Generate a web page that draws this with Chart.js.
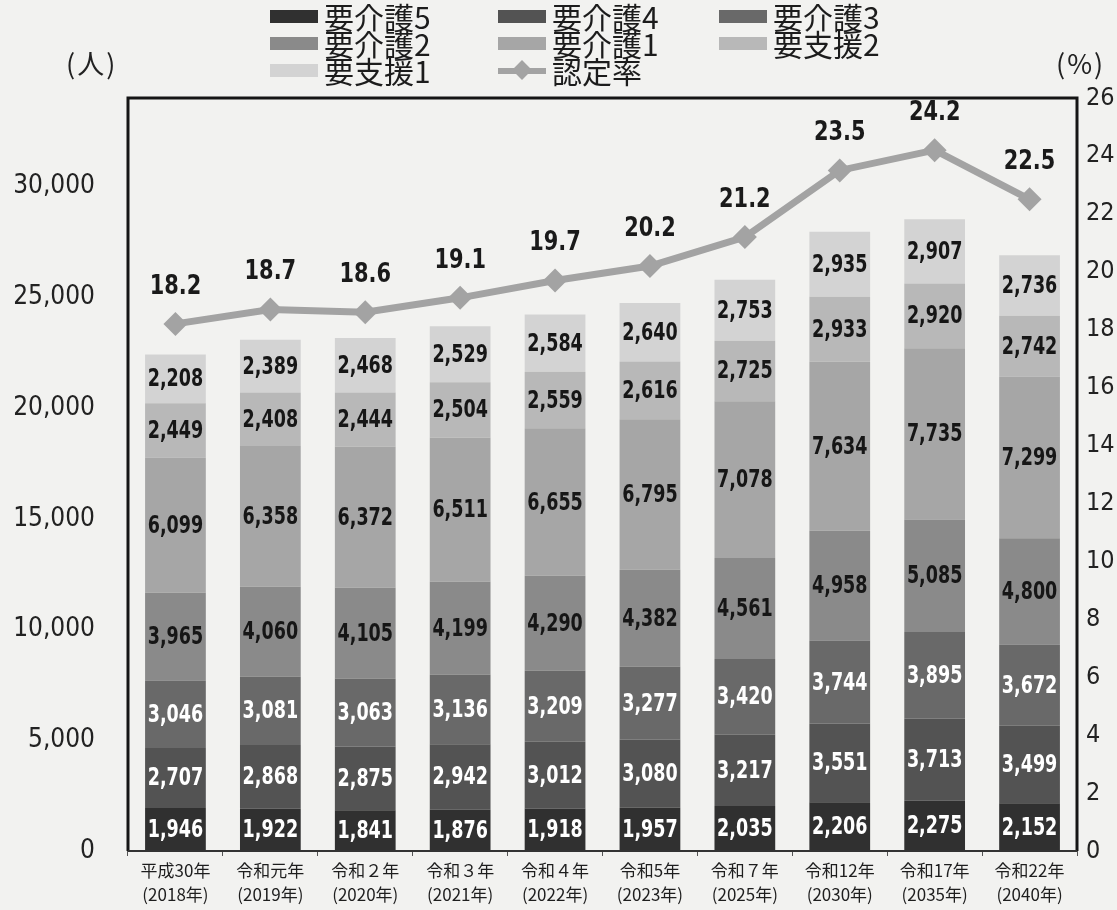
<!DOCTYPE html>
<html lang="ja">
<head>
<meta charset="utf-8">
<script src="https://cdn.jsdelivr.net/npm/chart.js@4/dist/chart.umd.min.js"></script>
<style>
  body { margin: 0; background: #f2f2f0; }
  #wrap { position: relative; width: 1117px; height: 910px; }
  #chart { position: absolute; left: 0; top: 0; }
  #legend {
    position: absolute; left: 270px; top: 3px;
    display: grid; grid-template-columns: 228px 221px auto;
    font-family: "Noto Sans CJK JP", sans-serif; font-size: 30px;
    line-height: 27px; color: #1c1c1c;
  }
  #legend .item { display: flex; align-items: center; }
  #legend .box { width: 48px; height: 13px; margin-right: 6px; }
  #legend .line { position: relative; width: 48px; height: 13px; margin-right: 6px; }
  #legend .line::before {
    content: ""; position: absolute; left: 0; right: 0; top: 4px; height: 6px; background: #a3a3a3;
  }
  #legend .line::after {
    content: ""; position: absolute; left: 17px; top: -1px; width: 14px; height: 14px;
    background: #a3a3a3; transform: rotate(45deg);
  }
  .unit {
    position: absolute; top: 43px; font-family: "Noto Sans CJK JP", sans-serif;
    font-size: 27px; color: #222; letter-spacing: 2px;
  }
</style>
</head>
<body>
<div id="wrap">
  <canvas id="chart" width="1117" height="910"></canvas>
  <div id="legend"></div>
  <div class="unit" style="left:66px">(人)</div>
  <div class="unit" style="left:1056px">(%)</div>
</div>
<script>
document.addEventListener("DOMContentLoaded", init);

const years = [
  ["平成30年", "(2018年)"], ["令和元年", "(2019年)"], ["令和２年", "(2020年)"],
  ["令和３年", "(2021年)"], ["令和４年", "(2022年)"], ["令和5年", "(2023年)"],
  ["令和７年", "(2025年)"], ["令和12年", "(2030年)"], ["令和17年", "(2035年)"],
  ["令和22年", "(2040年)"]
];

// stacked from the bottom up
const kaigo5 = [1946, 1922, 1841, 1876, 1918, 1957, 2035, 2206, 2275, 2152];
const kaigo4 = [2707, 2868, 2875, 2942, 3012, 3080, 3217, 3551, 3713, 3499];
const kaigo3 = [3046, 3081, 3063, 3136, 3209, 3277, 3420, 3744, 3895, 3672];
const kaigo2 = [3965, 4060, 4105, 4199, 4290, 4382, 4561, 4958, 5085, 4800];
const kaigo1 = [6099, 6358, 6372, 6511, 6655, 6795, 7078, 7634, 7735, 7299];
const shien2 = [2449, 2408, 2444, 2504, 2559, 2616, 2725, 2933, 2920, 2742];
const shien1 = [2208, 2389, 2468, 2529, 2584, 2640, 2753, 2935, 2907, 2736];
const rate = [18.2, 18.7, 18.6, 19.1, 19.7, 20.2, 21.2, 23.5, 24.2, 22.5];

const peopleTicks = [0, 5000, 10000, 15000, 20000, 25000, 30000];

const barSeries = [
  { name: "要介護5", data: kaigo5, color: "#303030", text: "#fff" },
  { name: "要介護4", data: kaigo4, color: "#535353", text: "#fff" },
  { name: "要介護3", data: kaigo3, color: "#696969", text: "#fff" },
  { name: "要介護2", data: kaigo2, color: "#8a8a8a", text: "#161616" },
  { name: "要介護1", data: kaigo1, color: "#a6a6a6", text: "#161616" },
  { name: "要支援2", data: shien2, color: "#b8b8b8", text: "#161616" },
  { name: "要支援1", data: shien1, color: "#d3d3d3", text: "#161616" }
];
const lineColor = "#a3a3a3";

const numFont = '"DejaVu Sans Condensed", "DejaVu Sans", sans-serif';

// squeezed text, the printed figures are tall and narrow
function narrowText(ctx, text, x, y, sx) {
  ctx.save();
  ctx.translate(x, y);
  ctx.scale(sx, 1);
  ctx.fillText(text, 0, 0);
  ctx.restore();
}

// value labels inside the bars and above the line points
const valueLabels = {
  id: "valueLabels",
  afterDatasetsDraw(chart) {
    const ctx = chart.ctx;
    ctx.save();
    ctx.textAlign = "center";
    ctx.textBaseline = "middle";
    chart.data.datasets.forEach((ds, i) => {
      const meta = chart.getDatasetMeta(i);
      meta.data.forEach((el, j) => {
        const v = ds.data[j];
        if (ds.type === "line") {
          ctx.font = "bold 27px " + numFont;
          ctx.fillStyle = "#1a1a1a";
          narrowText(ctx, v.toFixed(1), el.x, el.y - 37, 0.86);
        } else {
          ctx.font = "bold 25px " + numFont;
          ctx.fillStyle = ds.labelColor;
          narrowText(ctx, v.toLocaleString("en-US"), el.x, (el.y + el.base) / 2 + 1, 0.78);
        }
      });
    });
    ctx.restore();
  }
};

// heavy frame round the plot area
const frame = {
  id: "frame",
  afterDraw(chart) {
    const { left, top, right, bottom } = chart.chartArea;
    const ctx = chart.ctx;
    ctx.save();
    ctx.strokeStyle = "#151515";
    ctx.lineWidth = 3;
    ctx.beginPath();
    ctx.moveTo(left, bottom);
    ctx.lineTo(left, top);
    ctx.lineTo(right, top);
    ctx.lineTo(right, bottom);
    ctx.stroke();
    ctx.lineWidth = 2;
    ctx.strokeStyle = "#333";
    ctx.beginPath();
    ctx.moveTo(left, bottom);
    ctx.lineTo(right, bottom);
    ctx.stroke();
    ctx.restore();
  }
};

function buildLegend() {
  const box = document.getElementById("legend");
  barSeries.forEach((s) => {
    const item = document.createElement("div");
    item.className = "item";
    item.innerHTML = `<span class="box" style="background:${s.color}"></span>${s.name}`;
    box.appendChild(item);
  });
  const item = document.createElement("div");
  item.className = "item";
  item.innerHTML = `<span class="line"></span>認定率`;
  box.appendChild(item);
}

function init() {
  buildLegend();

  const datasets = barSeries.map((s) => ({
    type: "bar",
    label: s.name,
    data: s.data,
    backgroundColor: s.color,
    labelColor: s.text,
    yAxisID: "y",
    stack: "people",
    barPercentage: 0.64,
    categoryPercentage: 1,
    order: 1
  }));
  datasets.push({
    type: "line",
    label: "認定率",
    data: rate,
    borderColor: lineColor,
    backgroundColor: lineColor,
    borderWidth: 7,
    pointStyle: "rectRot",
    pointRadius: 12,
    pointBorderWidth: 0,
    yAxisID: "y1",
    order: 0
  });

  new Chart(document.getElementById("chart"), {
    data: { labels: years, datasets: datasets },
    options: {
      responsive: false,
      animation: false,
      layout: { padding: { top: 98 } },
      plugins: { legend: { display: false }, tooltip: { enabled: false } },
      scales: {
        x: {
          stacked: true,
          border: { display: false },
          grid: { drawOnChartArea: false, tickLength: 5, color: "#555" },
          ticks: {
            color: "#1e1e1e",
            padding: 3,
            font: { family: '"Noto Sans CJK JP", sans-serif', size: 17, lineHeight: 1.4 }
          },
          afterFit: (scale) => { scale.height = 59; }
        },
        y: {
          stacked: true,
          position: "left",
          min: 0,
          max: 34000,
          border: { display: false },
          grid: { display: false, drawTicks: false },
          afterBuildTicks: (scale) => {
            scale.ticks = peopleTicks.map((v) => ({ value: v }));
          },
          ticks: {
            padding: 33,
            color: "#222",
            font: { family: numFont, size: 26 },
            callback: (v) => v.toLocaleString("en-US")
          },
          afterFit: (scale) => { scale.width = 128; }
        },
        y1: {
          position: "right",
          min: 0,
          max: 26,
          border: { display: false },
          grid: { display: false, drawTicks: false },
          ticks: {
            stepSize: 2,
            padding: 9,
            color: "#222",
            font: { family: numFont, size: 25 }
          },
          afterFit: (scale) => { scale.width = 40; }
        }
      }
    },
    plugins: [valueLabels, frame]
  });
}
</script>
</body>
</html>
